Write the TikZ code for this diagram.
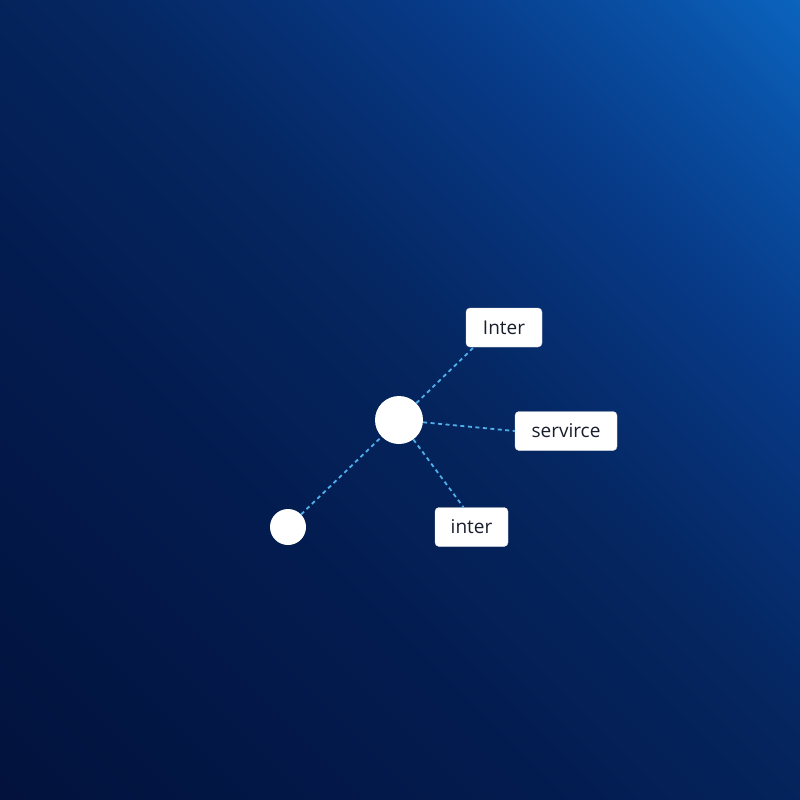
\documentclass[tikz,border=0pt]{standalone}
\usepackage{fontspec}
\setmainfont{Open Sans}
\definecolor{c0}{RGB}{2,18,60}
\definecolor{c1}{RGB}{3,28,80}
\definecolor{c2}{RGB}{5,38,96}
\definecolor{c3}{RGB}{7,56,132}
\definecolor{c4}{RGB}{9,80,165}
\definecolor{c5}{RGB}{11,100,190}
\pgfdeclareverticalshading{bgsh}{100bp}{color(0bp)=(c0); color(25bp)=(c0); color(42.5bp)=(c1); color(52.5bp)=(c2); color(62.5bp)=(c3); color(70bp)=(c4); color(75bp)=(c5); color(100bp)=(c5)}
\definecolor{linkc}{RGB}{80,176,235}
\definecolor{txtc}{RGB}{25,30,45}
\begin{document}
\begin{tikzpicture}[x=1pt,y=-1pt,
  lbl/.style={draw=gray!30,fill=white,rounded corners=4pt,inner sep=0pt,
     minimum height=39pt,text=txtc,font=\fontsize{19}{22}\selectfont},
  hub/.style={circle,fill=white,inner sep=0pt},
  link/.style={draw=linkc,line width=1.8pt,dash pattern=on 4pt off 3.5pt}]
\useasboundingbox (0,0) rectangle (800,800);
\begin{scope}
\clip (0,0) rectangle (800,800);
\begin{scope}[transform canvas={rotate around={-45:(400,400)}}]
\shade[shading=bgsh] (-166,-166) rectangle (966,966);
\end{scope}
\end{scope}
\node[hub,minimum size=48pt] (big) at (399,420) {};
\node[hub,minimum size=36pt] (small) at (288,527) {};
\node[lbl,minimum width=76pt] (inter1) at (504,327.5) {Inter};
\node[lbl,minimum width=102pt] (serv) at (566,431) {servirce};
\node[lbl,minimum width=73pt] (inter2) at (471.5,527) {inter};
\draw[link] (big) -- ([xshift=8pt]inter1.south west);
\draw[link] (big) -- (serv.west);
\draw[link] (big) -- ([xshift=-8pt]inter2.north);
\draw[link] (small) -- (big);
\end{tikzpicture}
\end{document}
